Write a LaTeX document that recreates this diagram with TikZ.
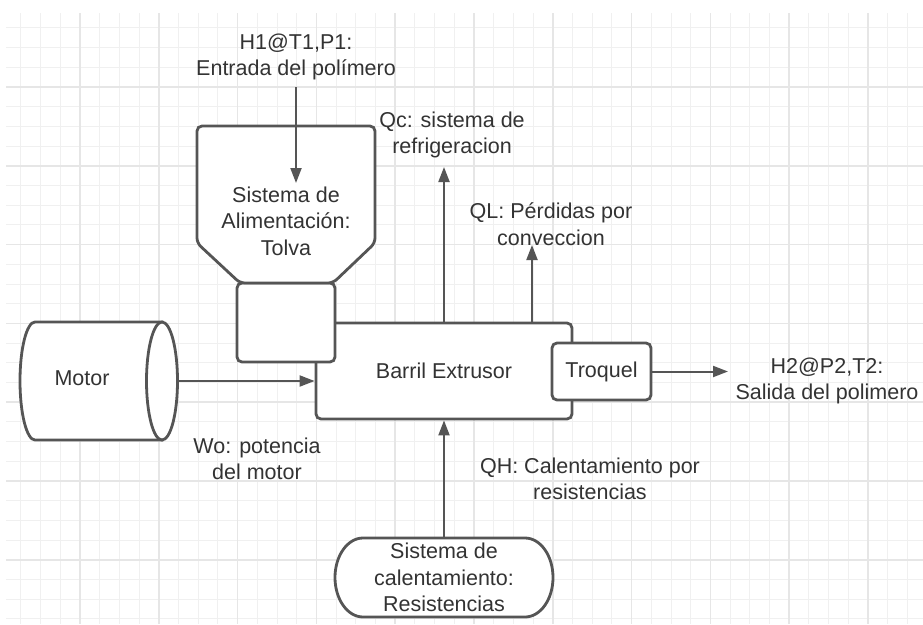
\documentclass[tikz,border=0pt]{standalone}
\usepackage{fontspec}
\setmainfont{Liberation Sans}
\usetikzlibrary{arrows.meta}
\definecolor{ln}{HTML}{555555}
\definecolor{tx}{HTML}{333333}
\definecolor{gmin}{HTML}{F0F0F0}
\definecolor{gmaj}{HTML}{E6E6E6}
\begin{document}
\begin{tikzpicture}[x=1pt,y=-1pt,
  font=\fontsize{21.5}{26.5}\selectfont, text=tx,
  shapebox/.style={draw=ln, line width=2.8pt, fill=white},
  conn/.style={draw=ln, line width=2pt, -{Triangle[length=15pt,width=11pt]}},
  lbl/.style={align=center, inner sep=0pt},
  gridminor/.style={draw=gmin, line width=1pt},
  gridmajor/.style={draw=gmaj, line width=1.6pt}]
\useasboundingbox (0,0) rectangle (923,624);
\fill[white] (0,0) rectangle (923,624);
% grid
\foreach \k in {1,...,46}{\draw[gridminor] ({1.2+19.7*\k},13) -- ({1.2+19.7*\k},624);}
\foreach \k in {1,...,31}{\draw[gridminor] (6,{8.2+19.7*\k}) -- (923,{8.2+19.7*\k});}
\foreach \k in {4,8,...,44}{\draw[gridmajor] ({1.2+19.7*\k},13) -- ({1.2+19.7*\k},624);}
\foreach \k in {4,8,...,28}{\draw[gridmajor] (6,{8.2+19.7*\k}) -- (923,{8.2+19.7*\k});}

% barrel
\node[shapebox, rounded corners=5pt, minimum width=256pt, minimum height=96pt, inner sep=0pt] (barrel) at (444,371) {Barril Extrusor};
% neck of hopper
\node[shapebox, rounded corners=5pt, minimum width=98pt, minimum height=79pt, inner sep=0pt] (neck) at (286,322.5) {};
% hopper
\draw[shapebox, rounded corners=5pt] (197,243) -- (197,126) -- (375,126) -- (375,243) -- (333,283) -- (240,283) -- cycle;
\node[lbl] (hop) at (286,221) {Sistema de\\Alimentación:\\Tolva};
% troquel
\node[shapebox, rounded corners=5pt, minimum width=99pt, minimum height=57pt, inner sep=0pt] (troq) at (601.5,371.5) {Troquel};
% motor
\node[minimum width=158pt, minimum height=118pt, inner sep=0pt] (motor) at (99,381) {};
\draw[shapebox] (35,322) -- (162,322) -- (162,440) -- (35,440) arc[start angle=90, end angle=270, x radius=15, y radius=59] -- cycle;
\draw[shapebox] (162,381) ellipse[x radius=15.5, y radius=59];
\node[lbl] (motortxt) at (82,378) {Motor};
% heater
\draw[shapebox] (363,538) -- (525,538) arc[start angle=-90, end angle=90, x radius=28, y radius=39.5] -- (363,617) arc[start angle=90, end angle=270, x radius=28, y radius=39.5] -- cycle;
\node[lbl, minimum width=218pt, minimum height=79pt] (heat) at (444,577.5) {Sistema de\\calentamiento:\\Resistencias};

% labels
\node[lbl] (h1) at (296,57) {H1@T1,P1:\\Entrada del polímero};
\node[lbl] (qc) at (452,135) {Qc: sistema de\\refrigeracion};
\node[lbl] (ql) at (551,224) {QL: Pérdidas por\\conveccion};
\node[lbl] (h2) at (827,381) {H2@P2,T2:\\Salida del polimero};
\node[lbl] (wo) at (257,459) {Wo: potencia\\del motor};
\node[lbl] (qh) at (590,479) {QH: Calentamiento por\\resistencias};

% connectors
\coordinate (h1tip) at (296,183);
\coordinate (qctip) at (444,167);
\coordinate (qltip) at (532,245);
\coordinate (h2tip) at (728,371.5);
\draw[conn, shorten <=7pt] (h1.south) -- (h1tip);
\draw[conn] (barrel.north) -- (qctip);
\draw[conn] (barrel.north -| qltip) -- (qltip);
\draw[conn] (motor.east) -- (barrel.west |- motor.east);
\draw[conn] (troq.east) -- (h2tip);
\draw[conn] (heat.north) -- (barrel.south);
\end{tikzpicture}
\end{document}
